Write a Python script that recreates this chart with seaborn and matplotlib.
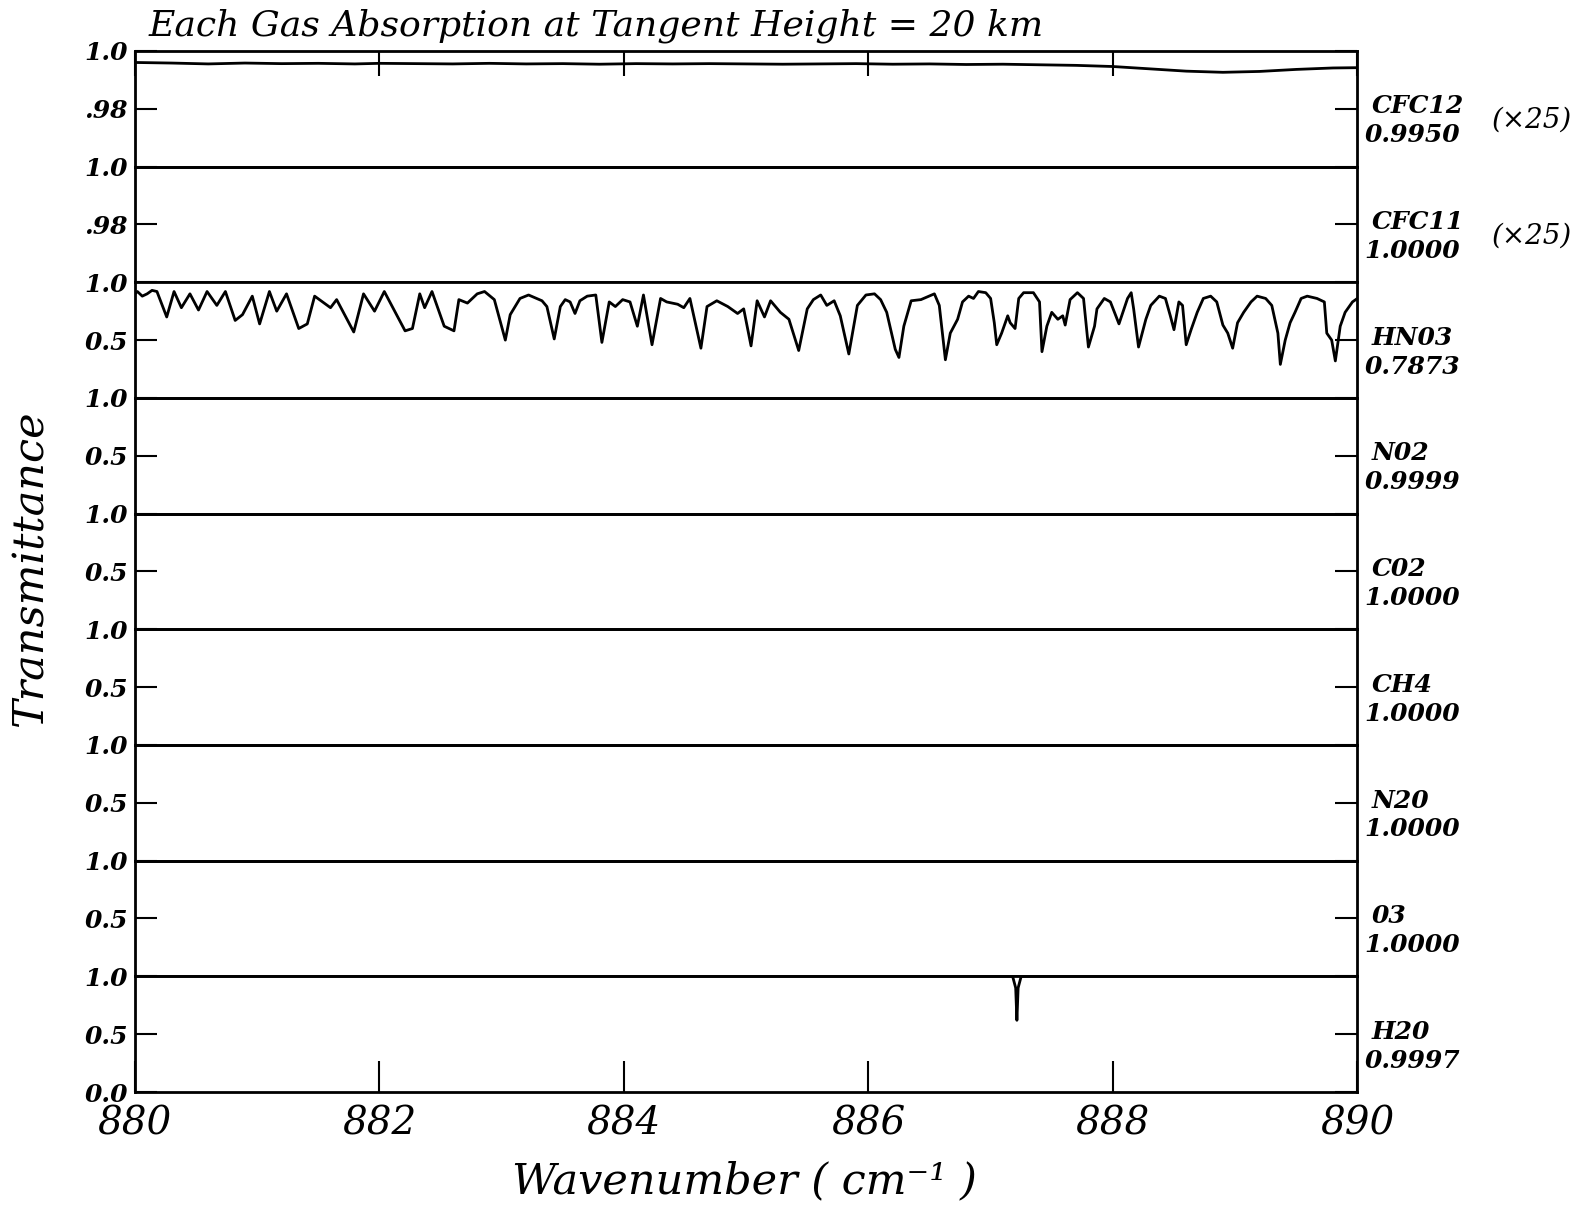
import numpy as np
import pandas as pd
import matplotlib
matplotlib.use("Agg")
import matplotlib.pyplot as plt
import seaborn as sns
from matplotlib.transforms import blended_transform_factory

# ---------------- data ----------------
gases = ["CFC12", "CFC11", "HN03", "N02", "C02", "CH4", "N20", "03", "H20"]
mean_trans = ["0.9950", "1.0000", "0.7873", "0.9999", "1.0000",
              "1.0000", "1.0000", "1.0000", "0.9997"]
magnify = ["(×25)", "(×25)", "", "", "", "", "", "", ""]
x_ticks = [880, 882, 884, 886, 888, 890]

cfc12_wn = [880.0, 880.3, 880.6, 880.9, 881.2, 881.5, 881.8, 882.0, 882.3, 882.6,
            882.9, 883.2, 883.5, 883.8, 884.1, 884.4, 884.7, 885.0, 885.3, 885.6,
            885.9, 886.2, 886.5, 886.8, 887.1, 887.4, 887.7, 888.0, 888.3, 888.6,
            888.9, 889.2, 889.5, 889.8, 890.0]
cfc12_t = [0.9960, 0.9958, 0.9955, 0.9958, 0.9956, 0.9957, 0.9955, 0.9957, 0.9956, 0.9955,
           0.9957, 0.9955, 0.9956, 0.9954, 0.9956, 0.9955, 0.9956, 0.9955, 0.9954, 0.9955,
           0.9956, 0.9954, 0.9955, 0.9953, 0.9954, 0.9952, 0.9950, 0.9946, 0.9938, 0.9930,
           0.9926, 0.9929, 0.9936, 0.9941, 0.9942]

cfc11_wn = [880.0, 890.0]
cfc11_t = [1.0, 1.0]

hno3_wn = [880.00, 880.02, 880.06, 880.10, 880.14, 880.18, 880.26, 880.32, 880.38, 880.45,
           880.52, 880.59, 880.67, 880.74, 880.82, 880.88, 880.96, 881.02, 881.10, 881.16,
           881.24, 881.34, 881.41, 881.47, 881.60, 881.65, 881.79, 881.87, 881.96, 882.04,
           882.21, 882.27, 882.33, 882.37, 882.43, 882.53, 882.61, 882.65, 882.72, 882.80,
           882.86, 882.94, 883.03, 883.07, 883.15, 883.22,
           883.33, 883.37, 883.43, 883.48, 883.52, 883.56, 883.60, 883.64, 883.70, 883.77,
           883.82, 883.88, 883.93, 883.99, 884.05, 884.11, 884.16, 884.23, 884.30, 884.35,
           884.44, 884.49, 884.54, 884.63, 884.68, 884.76, 884.85, 884.93, 884.98, 885.04,
           885.09, 885.15, 885.20, 885.28, 885.35, 885.43, 885.50, 885.55, 885.61, 885.66,
           885.72, 885.77, 885.84, 885.91, 885.98, 886.05, 886.10, 886.15, 886.22, 886.25,
           886.29, 886.35, 886.43, 886.54, 886.58, 886.63,
           886.67, 886.73, 886.77, 886.82, 886.86, 886.90, 886.96, 887.00, 887.03, 887.05,
           887.09, 887.14, 887.16, 887.20, 887.23, 887.27, 887.35, 887.40, 887.42, 887.46,
           887.50, 887.55, 887.59, 887.61, 887.65, 887.71, 887.76, 887.80, 887.85, 887.87,
           887.93, 887.98, 888.05, 888.12, 888.15, 888.17, 888.21, 888.27, 888.31, 888.38,
           888.43, 888.47, 888.50, 888.54, 888.57, 888.60, 888.64, 888.69, 888.74, 888.80,
           888.85, 888.90, 888.94, 888.98, 889.02, 889.07, 889.13, 889.18, 889.25, 889.30,
           889.35, 889.37, 889.41, 889.45, 889.49, 889.54, 889.59, 889.67, 889.73, 889.75,
           889.79, 889.82, 889.86, 889.90, 889.96, 890.00]
hno3_t = [0.90, 0.92, 0.88, 0.90, 0.93, 0.92, 0.70, 0.92, 0.78, 0.90,
          0.76, 0.92, 0.80, 0.92, 0.67, 0.72, 0.88, 0.64, 0.92, 0.75,
          0.90, 0.60, 0.64, 0.88, 0.78, 0.85, 0.57, 0.90, 0.75, 0.92,
          0.58, 0.60, 0.90, 0.78, 0.92, 0.62, 0.58, 0.85, 0.82, 0.90,
          0.92, 0.85, 0.50, 0.72, 0.86, 0.89,
          0.84, 0.79, 0.51, 0.79, 0.85, 0.83, 0.73, 0.84, 0.88, 0.89,
          0.48, 0.83, 0.79, 0.85, 0.83, 0.62, 0.89, 0.46, 0.86, 0.83,
          0.81, 0.78, 0.86, 0.43, 0.79, 0.84, 0.79, 0.73, 0.77, 0.45,
          0.84, 0.70, 0.84, 0.74, 0.68, 0.41, 0.77, 0.85, 0.89, 0.80,
          0.84, 0.71, 0.38, 0.80, 0.89, 0.90, 0.85, 0.74, 0.42, 0.35,
          0.62, 0.84, 0.85, 0.90, 0.80, 0.33,
          0.56, 0.68, 0.83, 0.88, 0.86, 0.92, 0.91, 0.86, 0.65, 0.46,
          0.56, 0.71, 0.65, 0.60, 0.86, 0.91, 0.91, 0.83, 0.40, 0.62,
          0.74, 0.68, 0.71, 0.63, 0.85, 0.91, 0.86, 0.44, 0.62, 0.77,
          0.86, 0.83, 0.64, 0.86, 0.91, 0.77, 0.44, 0.68, 0.80, 0.88,
          0.86, 0.71, 0.59, 0.83, 0.80, 0.46, 0.59, 0.74, 0.86, 0.88,
          0.83, 0.63, 0.56, 0.43, 0.65, 0.74, 0.83, 0.88, 0.86, 0.80,
          0.56, 0.29, 0.50, 0.65, 0.74, 0.86, 0.88, 0.86, 0.83, 0.56,
          0.50, 0.32, 0.62, 0.74, 0.83, 0.86]

flat_wn = [880.0, 890.0]
flat_t = [1.0, 1.0]

h2o_wn = [880.0, 887.18, 887.205, 887.215, 887.225, 887.25, 890.0]
h2o_t = [1.0, 1.0, 0.90, 0.62, 0.90, 1.0, 1.0]

series = [(cfc12_wn, cfc12_t), (cfc11_wn, cfc11_t), (hno3_wn, hno3_t),
          (flat_wn, flat_t), (flat_wn, flat_t), (flat_wn, flat_t),
          (flat_wn, flat_t), (flat_wn, flat_t), (h2o_wn, h2o_t)]

# ---------------- style ----------------
sns.set_theme(style="ticks")
plt.rcParams["font.family"] = ["DejaVu Serif", "DejaVu Sans"]
plt.rcParams.update({"text.color": "black", "axes.labelcolor": "black",
                     "xtick.color": "black", "ytick.color": "black",
                     "axes.edgecolor": "black", "axes.linewidth": 2.0})

fig, axes = plt.subplots(9, 1, sharex=True, figsize=(15.95, 12.12), dpi=100,
                         gridspec_kw=dict(hspace=0))
fig.subplots_adjust(left=0.0846, right=0.851, top=0.958, bottom=0.099)

label_font = dict(fontsize=18, fontstyle="italic", fontweight="bold", color="black")

for i, ax in enumerate(axes):
    wn, t = series[i]
    df = pd.DataFrame({"wavenumber": wn, "transmittance": t})
    sns.lineplot(data=df, x="wavenumber", y="transmittance", ax=ax,
                 color="black", linewidth=2.0, estimator=None, sort=False)
    ax.set_xlim(880, 890)
    if i < 2:
        ax.set_ylim(0.96, 1.0)
        ax.set_yticks([0.98, 1.0])
        ax.set_yticklabels([".98", "1.0"])
    elif i == 8:
        ax.set_ylim(0.0, 1.0)
        ax.set_yticks([0.0, 0.5, 1.0])
        ax.set_yticklabels(["0.0", "0.5", "1.0"])
    else:
        ax.set_ylim(0.0, 1.0)
        ax.set_yticks([0.5, 1.0])
        ax.set_yticklabels(["0.5", "1.0"])
    ax.set_xlabel("")
    ax.set_ylabel("")
    for sp in ax.spines.values():
        sp.set_visible(True)
        sp.set_linewidth(2.0)
        sp.set_color("black")
    ax.tick_params(axis="y", which="both", direction="in", length=16, width=1.5,
                   left=True, right=True, labelleft=True, labelright=False, pad=5,
                   colors="black")
    for lab in ax.get_yticklabels():
        lab.set_fontsize(18)
        lab.set_fontstyle("italic")
        lab.set_fontweight("bold")
    ax.tick_params(axis="x", which="both", bottom=False, top=False,
                   labelbottom=False, labeltop=False)

    trans = blended_transform_factory(ax.transAxes, ax.transAxes)
    ax.text(1.012, 0.52, gases[i], transform=trans, ha="left", va="center",
            **label_font)
    ax.text(1.006, 0.27, mean_trans[i], transform=trans, ha="left", va="center",
            **label_font)
    if magnify[i]:
        ax.text(1.110, 0.40, magnify[i], transform=trans, ha="left", va="center",
                fontsize=20, fontstyle="italic", color="black")

axes[0].set_xticks(x_ticks)
axes[0].tick_params(axis="x", top=True, direction="in", length=18, width=1.5)
axes[-1].tick_params(axis="x", bottom=True, labelbottom=True, direction="in",
                     length=22, width=1.5, pad=10, colors="black")
axes[-1].set_xticklabels([str(v) for v in x_ticks])
for lab in axes[-1].get_xticklabels():
    lab.set_fontsize(28)
    lab.set_fontstyle("italic")

fig.text(0.093, 0.979, "Each Gas Absorption at Tangent Height = 20 km",
         ha="left", va="center", fontsize=26, fontstyle="italic")
fig.text(0.467, 0.025, "Wavenumber ( cm⁻¹ )", ha="center", va="center",
         fontsize=31, fontstyle="italic")
fig.text(0.019, 0.532, "Transmittance", ha="center", va="center",
         rotation=90, fontsize=31, fontstyle="italic")

fig.savefig("out.png", dpi=100, facecolor="white")
